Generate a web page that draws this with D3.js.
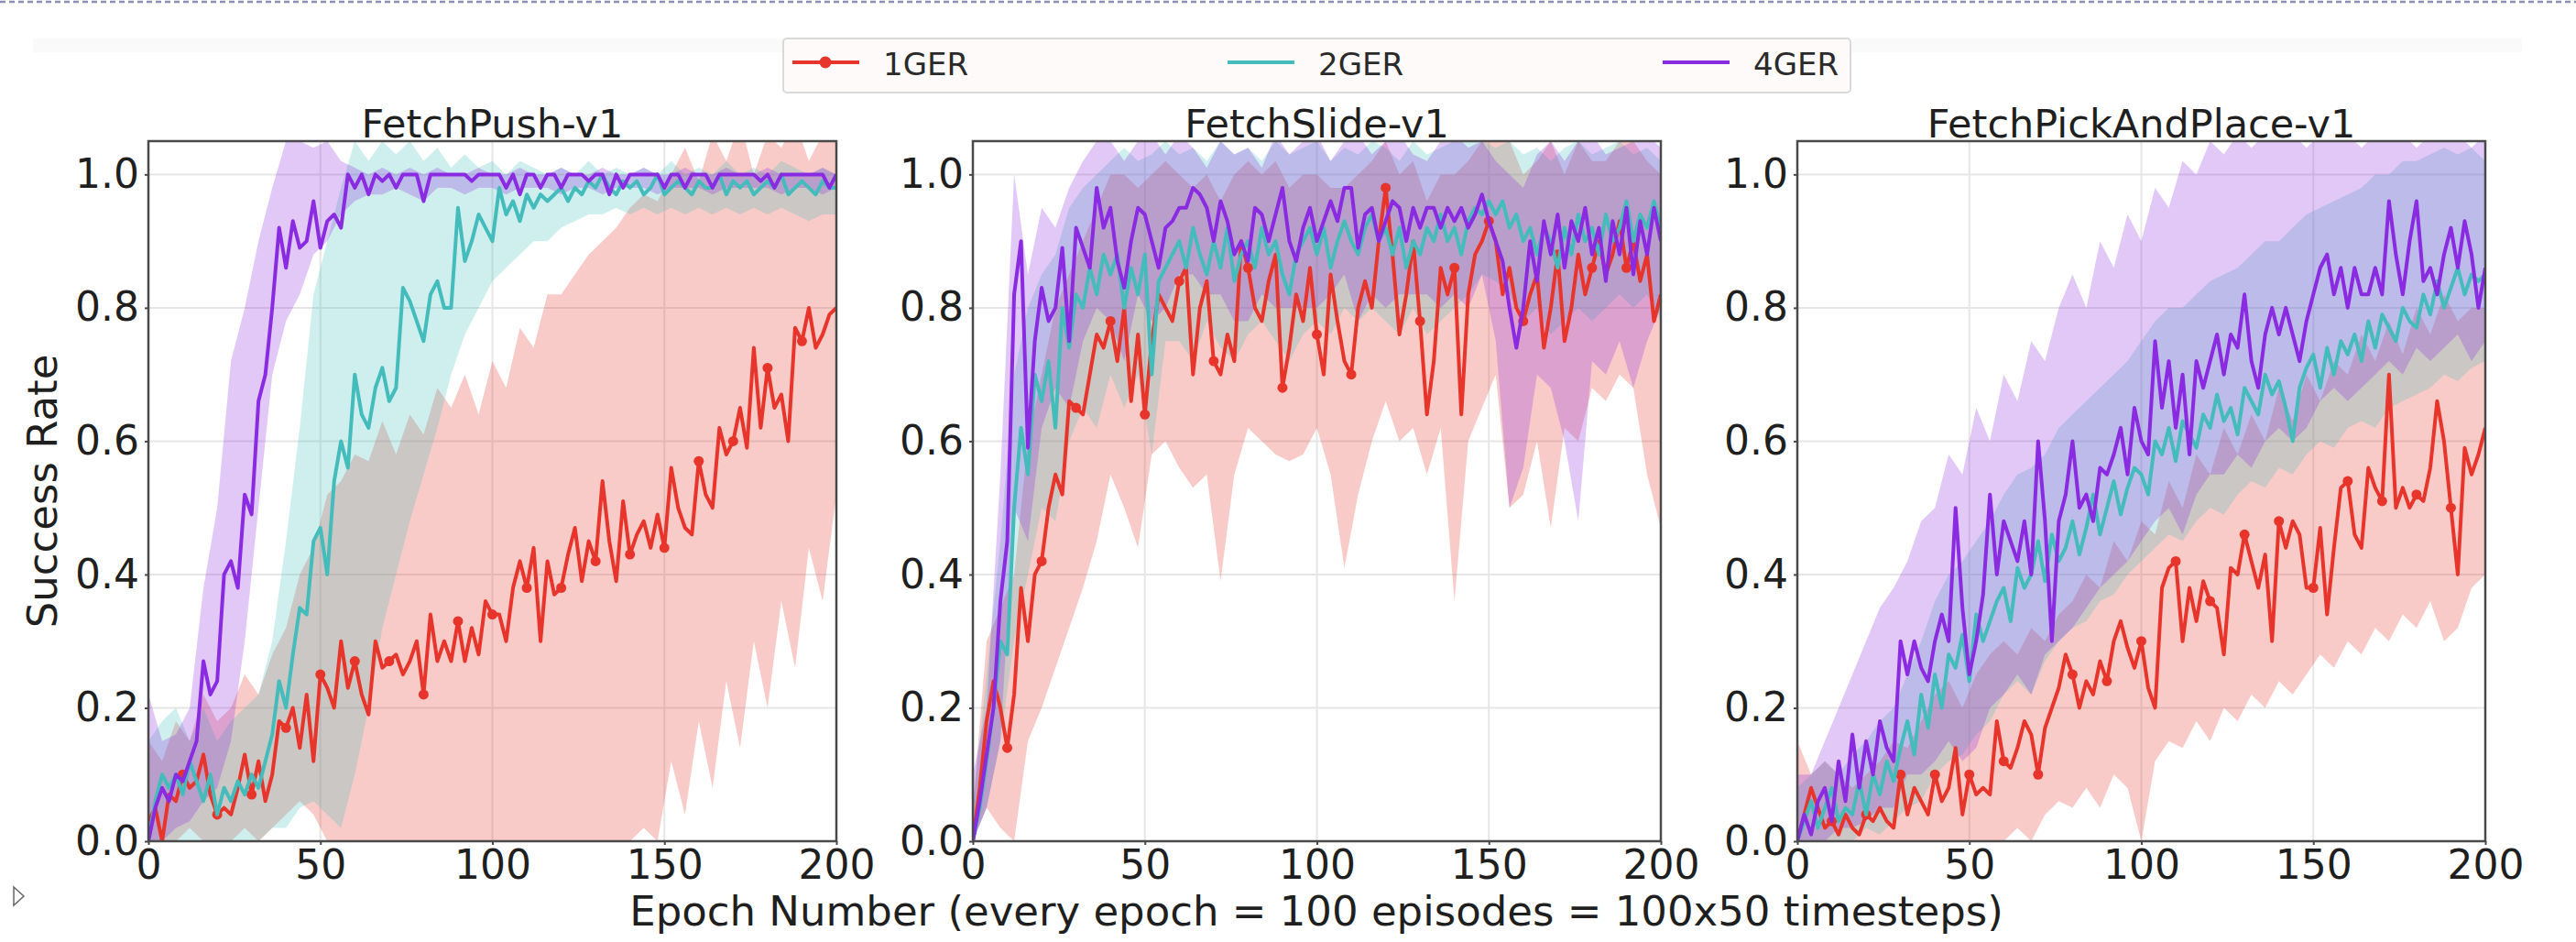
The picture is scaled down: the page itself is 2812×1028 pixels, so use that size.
<!DOCTYPE html>
<html>
<head>
<meta charset="utf-8">
<script src="https://cdn.jsdelivr.net/npm/d3@7"></script>
<style>
  html, body { margin: 0; padding: 0; background: #ffffff; }
  svg { display: block; }
</style>
</head>
<body>
<div id="chart"></div>
<script>
const colors = {
  red: "#e8352b",
  teal: "#45bcbc",
  purple: "#8a2be2",
  text: "#1f1f1f",
  grid: "#e6e6e6",
  spine: "#4a4a4a"
};

// panel titles, legend names, ticks
const panelTitles = ["FetchPush-v1", "FetchSlide-v1", "FetchPickAndPlace-v1"];
const seriesNames = ["1GER", "2GER", "4GER"];
const xTicks = [0, 50, 100, 150, 200];
const yTicks = [0, 0.2, 0.4, 0.6, 0.8, 1.0];
const xLabel = "Epoch Number (every epoch = 100 episodes = 100x50 timesteps)";
const yLabel = "Success Rate";

// mean curves are read every 2 epochs, shaded bands every 4 epochs
const lineEpochs = d3.range(0, 201, 2);
const bandEpochs = d3.range(0, 201, 4);

// ---- FetchPush-v1 ----
const push1 = [
  0.03, 0.05, 0.00, 0.07, 0.06, 0.10, 0.08, 0.09, 0.13, 0.07,
  0.04, 0.05, 0.04, 0.08, 0.13, 0.07, 0.12, 0.06, 0.10, 0.18,
  0.17, 0.20, 0.14, 0.22, 0.12, 0.25, 0.23, 0.20, 0.30, 0.23,
  0.27, 0.22, 0.19, 0.30, 0.26, 0.27, 0.28, 0.25, 0.27, 0.30,
  0.22, 0.34, 0.27, 0.30, 0.27, 0.33, 0.27, 0.32, 0.28, 0.36,
  0.34, 0.34, 0.30, 0.38, 0.42, 0.38, 0.44, 0.30, 0.42, 0.37,
  0.38, 0.43, 0.47, 0.39, 0.45, 0.42, 0.54, 0.45, 0.39, 0.51,
  0.43, 0.46, 0.48, 0.44, 0.49, 0.44, 0.56, 0.50, 0.47, 0.46,
  0.57, 0.52, 0.50, 0.62, 0.58, 0.60, 0.65, 0.59, 0.74, 0.62,
  0.71, 0.65, 0.67, 0.60, 0.77, 0.75, 0.80, 0.74, 0.76, 0.79,
  0.80
];
const push2 = [
  0.00, 0.06, 0.10, 0.08, 0.10, 0.07, 0.12, 0.09, 0.06, 0.10,
  0.04, 0.08, 0.06, 0.09, 0.07, 0.10, 0.08, 0.12, 0.16, 0.24,
  0.20, 0.28, 0.35, 0.34, 0.45, 0.47, 0.40, 0.54, 0.60, 0.56,
  0.70, 0.64, 0.62, 0.68, 0.71, 0.66, 0.68, 0.83, 0.81, 0.78,
  0.75, 0.82, 0.84, 0.80, 0.80, 0.95, 0.87, 0.90, 0.94, 0.92,
  0.90, 0.98, 0.94, 0.96, 0.93, 0.97, 0.95, 0.97, 0.96, 0.97,
  0.98, 0.96, 0.98, 0.97, 0.99, 0.98, 1.00, 0.98, 0.97, 0.99,
  0.98, 0.99, 0.97, 0.98, 1.00, 0.97, 0.98, 0.99, 0.98, 0.97,
  0.99, 0.98, 0.98, 1.00, 0.97, 0.99, 0.98, 0.99, 0.97, 0.98,
  0.99, 0.98, 1.00, 0.97, 0.98, 0.99, 0.98, 0.97, 0.99, 0.98,
  0.98
];
const push4 = [
  0.00, 0.05, 0.08, 0.06, 0.10, 0.09, 0.12, 0.15, 0.27, 0.22,
  0.24, 0.40, 0.42, 0.38, 0.52, 0.49, 0.66, 0.70, 0.80, 0.92,
  0.86, 0.93, 0.89, 0.90, 0.96, 0.89, 0.93, 0.94, 0.92, 1.00,
  0.98, 1.00, 0.97, 1.00, 0.99, 1.00, 0.98, 1.00, 1.00, 1.00,
  0.96, 1.00, 1.00, 1.00, 1.00, 1.00, 1.00, 0.99, 1.00, 1.00,
  1.00, 1.00, 0.98, 1.00, 0.97, 1.00, 1.00, 0.98, 1.00, 1.00,
  0.98, 1.00, 1.00, 1.00, 0.99, 1.00, 1.00, 0.97, 1.00, 0.98,
  1.00, 1.00, 1.00, 1.00, 1.00, 0.98, 1.00, 1.00, 0.98, 1.00,
  1.00, 1.00, 0.98, 1.00, 1.00, 1.00, 1.00, 1.00, 1.00, 0.99,
  1.00, 0.98, 1.00, 1.00, 1.00, 1.00, 1.00, 1.00, 1.00, 0.98,
  1.00
];
const push1Lo = [
  0.00, 0.00, 0.00, 0.02, 0.00, 0.00, 0.00, 0.02, 0.00, 0.02,
  0.04, 0.06, 0.04, 0.00, 0.00, 0.00, 0.00, 0.00, 0.00, 0.00,
  0.00, 0.00, 0.00, 0.00, 0.00, 0.00, 0.00, 0.00, 0.00, 0.00,
  0.00, 0.00, 0.00, 0.00, 0.00, 0.00, 0.02, 0.00, 0.12, 0.04,
  0.18, 0.08, 0.24, 0.14, 0.30, 0.20, 0.36, 0.26, 0.44, 0.36,
  0.52
];
const push1Hi = [
  0.15, 0.12, 0.18, 0.15, 0.22, 0.18, 0.20, 0.25, 0.22, 0.28,
  0.32, 0.40, 0.44, 0.52, 0.54, 0.58, 0.57, 0.63, 0.58, 0.64,
  0.61, 0.68, 0.65, 0.70, 0.64, 0.72, 0.68, 0.77, 0.74, 0.82,
  0.82, 0.85, 0.88, 0.90, 0.92, 0.95, 0.97, 0.96, 1.00, 1.04,
  0.99, 1.06, 1.02, 1.08, 1.00, 1.06, 1.04, 1.08, 1.02, 1.06,
  1.08
];
const push2Lo = [
  0.00, 0.00, 0.00, 0.00, 0.00, 0.00, 0.00, 0.00, 0.00, 0.02,
  0.02, 0.05, 0.06, 0.04, 0.02, 0.10, 0.20, 0.32, 0.40, 0.48,
  0.55, 0.62, 0.70, 0.76, 0.80, 0.84, 0.86, 0.88, 0.90, 0.90,
  0.92, 0.93, 0.94, 0.94, 0.95, 0.94, 0.95, 0.94, 0.95, 0.94,
  0.95, 0.94, 0.95, 0.94, 0.95, 0.94, 0.95, 0.94, 0.93, 0.94,
  0.94
];
const push2Hi = [
  0.15, 0.18, 0.20, 0.15, 0.20, 0.15, 0.18, 0.20, 0.22, 0.30,
  0.45, 0.62, 0.82, 0.90, 0.98, 1.05, 1.02, 1.05, 1.03, 1.05,
  1.02, 1.04, 1.01, 1.03, 1.01, 1.02, 1.00, 1.02, 1.01, 1.00,
  1.01, 1.00, 1.02, 1.00, 1.01, 1.00, 1.01, 1.00, 1.02, 1.00,
  1.01, 1.00, 1.02, 1.00, 1.01, 1.00, 1.02, 1.01, 1.00, 1.01,
  1.00
];
const push4Lo = [
  0.00, 0.00, 0.02, 0.03, 0.06, 0.08, 0.15, 0.30, 0.50, 0.70,
  0.78, 0.82, 0.88, 0.90, 0.94, 0.96, 0.97, 0.97, 0.98, 0.97,
  0.96, 0.98, 0.98, 0.97, 0.98, 0.98, 0.97, 0.98, 0.98, 0.98,
  0.97, 0.98, 0.98, 0.97, 0.98, 0.98, 0.98, 0.97, 0.98, 0.98,
  0.98, 0.97, 0.98, 0.98, 0.98, 0.98, 0.97, 0.98, 0.98, 0.97,
  0.98
];
const push4Hi = [
  0.22, 0.15, 0.16, 0.20, 0.38, 0.50, 0.72, 0.80, 0.90, 0.98,
  1.05, 1.05, 1.04, 1.05, 1.02, 1.01, 1.00, 1.01, 1.00, 1.01,
  1.00, 1.01, 1.00, 1.00, 1.01, 1.00, 1.00, 1.01, 1.00, 1.00,
  1.01, 1.00, 1.00, 1.01, 1.00, 1.00, 1.01, 1.00, 1.00, 1.01,
  1.00, 1.00, 1.01, 1.00, 1.00, 1.01, 1.00, 1.00, 1.00, 1.01,
  1.00
];

// ---- FetchSlide-v1 ----
const slide1 = [
  0.00, 0.08, 0.18, 0.24, 0.20, 0.14, 0.22, 0.38, 0.30, 0.40,
  0.42, 0.50, 0.55, 0.52, 0.66, 0.65, 0.64, 0.70, 0.76, 0.74,
  0.78, 0.72, 0.80, 0.66, 0.76, 0.64, 0.75, 0.82, 0.80, 0.78,
  0.84, 0.86, 0.70, 0.80, 0.84, 0.72, 0.70, 0.76, 0.72, 0.90,
  0.86, 0.80, 0.78, 0.84, 0.88, 0.68, 0.74, 0.82, 0.78, 0.86,
  0.76, 0.70, 0.85, 0.78, 0.72, 0.70, 0.80, 0.84, 0.80, 0.90,
  0.98, 0.88, 0.76, 0.82, 0.90, 0.78, 0.64, 0.72, 0.86, 0.82,
  0.86, 0.64, 0.82, 0.88, 0.90, 0.93, 0.90, 0.82, 0.86, 0.80,
  0.78, 0.82, 0.85, 0.74, 0.80, 0.88, 0.75, 0.80, 0.88, 0.82,
  0.86, 0.90, 0.85, 0.88, 0.93, 0.86, 0.90, 0.84, 0.88, 0.78,
  0.82
];
const slide2 = [
  0.00, 0.05, 0.12, 0.20, 0.30, 0.28, 0.50, 0.62, 0.55, 0.70,
  0.66, 0.72, 0.62, 0.80, 0.74, 0.82, 0.80, 0.86, 0.82, 0.88,
  0.85, 0.88, 0.80, 0.86, 0.82, 0.88, 0.70, 0.84, 0.86, 0.88,
  0.90, 0.86, 0.92, 0.88, 0.85, 0.90, 0.86, 0.92, 0.84, 0.88,
  0.90, 0.86, 0.92, 0.88, 0.90, 0.85, 0.82, 0.88, 0.90, 0.92,
  0.88, 0.92, 0.86, 0.90, 0.93, 0.90, 0.88, 0.92, 0.94, 0.90,
  0.92, 0.88, 0.92, 0.86, 0.90, 0.88, 0.92, 0.90, 0.94, 0.90,
  0.92, 0.88, 0.93, 0.95, 0.94, 0.96, 0.94, 0.96, 0.92, 0.94,
  0.90, 0.92, 0.88, 0.92, 0.90, 0.86, 0.92, 0.88, 0.94, 0.90,
  0.92, 0.88, 0.94, 0.90, 0.92, 0.96, 0.90, 0.94, 0.92, 0.96,
  0.92
];
const slide4 = [
  0.00, 0.06, 0.13, 0.20, 0.36, 0.45, 0.82, 0.90, 0.59, 0.75,
  0.83, 0.78, 0.80, 0.89, 0.75, 0.92, 0.89, 0.86, 0.98, 0.92,
  0.95, 0.87, 0.83, 0.90, 0.95, 0.94, 0.90, 0.86, 0.92, 0.93,
  0.95, 0.95, 0.98, 0.97, 0.95, 0.90, 0.96, 0.93, 0.88, 0.90,
  0.87, 0.95, 0.94, 0.90, 0.94, 0.98, 0.90, 0.87, 0.92, 0.95,
  0.90, 0.93, 0.96, 0.93, 0.98, 0.98, 0.89, 0.94, 0.95, 0.90,
  0.93, 0.96, 0.95, 0.90, 0.95, 0.92, 0.95, 0.95, 0.92, 0.95,
  0.93, 0.95, 0.92, 0.94, 0.97, 0.93, 0.90, 0.87, 0.80, 0.74,
  0.80, 0.90, 0.84, 0.93, 0.88, 0.94, 0.86, 0.93, 0.90, 0.95,
  0.88, 0.92, 0.84, 0.93, 0.88, 0.95, 0.85, 0.93, 0.88, 0.95,
  0.90
];
const slide1Lo = [
  0.00, 0.05, 0.02, 0.00, 0.15, 0.20, 0.26, 0.32, 0.38, 0.45,
  0.55, 0.50, 0.44, 0.58, 0.60, 0.56, 0.53, 0.55, 0.39, 0.55,
  0.62, 0.60, 0.58, 0.57, 0.58, 0.62, 0.55, 0.41, 0.52, 0.60,
  0.66, 0.60, 0.62, 0.55, 0.62, 0.36, 0.60, 0.65, 0.70, 0.50,
  0.52, 0.60, 0.47, 0.62, 0.60, 0.68, 0.66, 0.70, 0.68, 0.55,
  0.47
];
const slide1Hi = [
  0.05, 0.30, 0.35, 0.40, 0.60, 0.70, 0.80, 0.85, 0.90, 0.95,
  1.00, 1.00, 0.98, 1.00, 1.02, 1.00, 0.98, 1.00, 0.96, 1.00,
  1.02, 1.00, 1.02, 0.98, 1.00, 1.00, 0.98, 0.98, 1.00, 1.02,
  1.05, 1.00, 1.02, 0.96, 1.00, 1.00, 1.02, 1.05, 1.08, 1.05,
  1.00, 1.02, 1.05, 1.00, 1.05, 1.02, 1.02, 1.05, 1.05, 1.02,
  1.00
];
const slide2Lo = [
  0.00, 0.05, 0.15, 0.30, 0.40, 0.50, 0.48, 0.60, 0.65, 0.62,
  0.70, 0.65, 0.70, 0.58, 0.75, 0.75, 0.72, 0.78, 0.74, 0.72,
  0.76, 0.78, 0.75, 0.72, 0.76, 0.78, 0.76, 0.80, 0.78, 0.80,
  0.78, 0.76, 0.80, 0.76, 0.78, 0.80, 0.82, 0.85, 0.84, 0.82,
  0.78, 0.80, 0.76, 0.78, 0.80, 0.78, 0.80, 0.82, 0.80, 0.82,
  0.78
];
const slide2Hi = [
  0.05, 0.25, 0.45, 0.70, 0.80, 0.85, 0.88, 0.95, 0.98, 1.00,
  1.02, 1.04, 1.02, 1.03, 1.05, 1.03, 1.04, 1.02, 1.05, 1.03,
  1.04, 1.02, 1.05, 1.03, 1.04, 1.05, 1.02, 1.04, 1.03, 1.05,
  1.04, 1.02, 1.05, 1.03, 1.04, 1.05, 1.06, 1.05, 1.04, 1.05,
  1.03, 1.04, 1.02, 1.04, 1.05, 1.03, 1.04, 1.05, 1.03, 1.04,
  1.02
];
const slide4Lo = [
  0.00, 0.05, 0.15, 0.50, 0.45, 0.62, 0.68, 0.65, 0.75, 0.80,
  0.78, 0.72, 0.82, 0.78, 0.80, 0.85, 0.85, 0.82, 0.82, 0.78,
  0.78, 0.82, 0.80, 0.80, 0.80, 0.80, 0.82, 0.85, 0.78, 0.82,
  0.80, 0.82, 0.82, 0.82, 0.80, 0.82, 0.80, 0.85, 0.75, 0.50,
  0.56, 0.70, 0.68, 0.60, 0.48, 0.72, 0.70, 0.75, 0.68, 0.75,
  0.80
];
const slide4Hi = [
  0.10, 0.20, 0.55, 1.00, 0.85, 0.95, 0.92, 0.98, 1.02, 1.05,
  1.05, 1.02, 1.05, 1.06, 1.03, 1.06, 1.04, 1.01, 1.05, 1.03,
  1.04, 1.01, 1.06, 1.03, 1.05, 1.06, 1.02, 1.05, 1.06, 1.03,
  1.05, 1.06, 1.03, 1.02, 1.05, 1.06, 1.04, 1.05, 1.02, 1.00,
  0.98, 1.03, 1.05, 1.02, 1.05, 1.06, 1.03, 1.04, 1.05, 1.06,
  1.04
];

// ---- FetchPickAndPlace-v1 ----
const pick1 = [
  0.00, 0.04, 0.08, 0.05, 0.02, 0.03, 0.01, 0.04, 0.02, 0.01,
  0.04, 0.03, 0.05, 0.03, 0.02, 0.10, 0.04, 0.08, 0.06, 0.04,
  0.10, 0.06, 0.08, 0.14, 0.04, 0.10, 0.07, 0.08, 0.07, 0.18,
  0.12, 0.11, 0.14, 0.18, 0.16, 0.10, 0.17, 0.20, 0.23, 0.28,
  0.25, 0.20, 0.24, 0.22, 0.27, 0.24, 0.30, 0.33, 0.29, 0.26,
  0.30, 0.23, 0.20, 0.38, 0.41, 0.42, 0.30, 0.38, 0.33, 0.39,
  0.36, 0.35, 0.28, 0.41, 0.40, 0.46, 0.42, 0.38, 0.43, 0.30,
  0.48, 0.44, 0.48, 0.46, 0.38, 0.38, 0.47, 0.34, 0.44, 0.53,
  0.54, 0.46, 0.44, 0.56, 0.53, 0.51, 0.70, 0.50, 0.53, 0.50,
  0.52, 0.51, 0.56, 0.66, 0.60, 0.50, 0.40, 0.59, 0.55, 0.58,
  0.62
];
const pick2 = [
  0.00, 0.03, 0.06, 0.02, 0.05, 0.08, 0.03, 0.05, 0.04, 0.09,
  0.04, 0.10, 0.07, 0.12, 0.09, 0.14, 0.18, 0.13, 0.22, 0.17,
  0.25, 0.20, 0.28, 0.26, 0.31, 0.24, 0.34, 0.30, 0.33, 0.36,
  0.38, 0.33, 0.41, 0.38, 0.40, 0.45, 0.39, 0.46, 0.42, 0.44,
  0.48, 0.43, 0.47, 0.52, 0.46, 0.50, 0.54, 0.49, 0.53, 0.56,
  0.55, 0.52, 0.60, 0.58, 0.62, 0.57, 0.63, 0.61, 0.59, 0.64,
  0.62, 0.67, 0.63, 0.65, 0.61, 0.68, 0.66, 0.64, 0.70, 0.67,
  0.69, 0.65, 0.60, 0.68, 0.71, 0.73, 0.68, 0.74, 0.70, 0.75,
  0.73, 0.76, 0.72, 0.78, 0.74, 0.79, 0.77, 0.75, 0.80, 0.78,
  0.77, 0.82, 0.79, 0.84, 0.80, 0.83, 0.86, 0.82, 0.85, 0.84,
  0.85
];
const pick4 = [
  0.00, 0.04, 0.01, 0.06, 0.08, 0.03, 0.12, 0.06, 0.16, 0.08,
  0.15, 0.10, 0.18, 0.14, 0.12, 0.30, 0.25, 0.30, 0.26, 0.24,
  0.30, 0.34, 0.30, 0.50, 0.35, 0.25, 0.30, 0.37, 0.52, 0.40,
  0.48, 0.45, 0.42, 0.48, 0.40, 0.60, 0.48, 0.30, 0.48, 0.52,
  0.60, 0.50, 0.52, 0.48, 0.56, 0.55, 0.58, 0.62, 0.55, 0.65,
  0.60, 0.58, 0.75, 0.65, 0.72, 0.62, 0.70, 0.58, 0.72, 0.68,
  0.72, 0.76, 0.70, 0.76, 0.74, 0.82, 0.72, 0.68, 0.76, 0.80,
  0.76, 0.80, 0.76, 0.72, 0.78, 0.82, 0.86, 0.88, 0.82, 0.86,
  0.80, 0.86, 0.82, 0.82, 0.86, 0.82, 0.96, 0.88, 0.82, 0.90,
  0.96, 0.84, 0.86, 0.82, 0.88, 0.92, 0.86, 0.93, 0.88, 0.80,
  0.86
];
const pick1Lo = [
  0.00, 0.00, 0.00, 0.00, 0.00, 0.00, 0.00, 0.00, 0.00, 0.00,
  0.00, 0.00, 0.00, 0.00, 0.00, 0.00, 0.02, 0.00, 0.04, 0.06,
  0.05, 0.08, 0.05, 0.10, 0.08, 0.00, 0.12, 0.15, 0.14, 0.18,
  0.15, 0.20, 0.18, 0.22, 0.20, 0.24, 0.22, 0.25, 0.28, 0.26,
  0.30, 0.28, 0.32, 0.30, 0.34, 0.32, 0.36, 0.30, 0.32, 0.38,
  0.40
];
const pick1Hi = [
  0.15, 0.10, 0.12, 0.10, 0.08, 0.10, 0.12, 0.15, 0.14, 0.18,
  0.22, 0.24, 0.20, 0.25, 0.28, 0.30, 0.28, 0.32, 0.30, 0.34,
  0.36, 0.40, 0.38, 0.45, 0.42, 0.48, 0.46, 0.54, 0.50, 0.58,
  0.55, 0.62, 0.58, 0.64, 0.60, 0.68, 0.63, 0.70, 0.66, 0.72,
  0.70, 0.76, 0.72, 0.78, 0.73, 0.80, 0.76, 0.82, 0.78, 0.80,
  0.80
];
const pick2Lo = [
  0.00, 0.00, 0.00, 0.00, 0.00, 0.02, 0.01, 0.03, 0.05, 0.06,
  0.10, 0.12, 0.13, 0.16, 0.18, 0.22, 0.24, 0.22, 0.27, 0.30,
  0.32, 0.33, 0.36, 0.37, 0.40, 0.42, 0.44, 0.46, 0.45, 0.48,
  0.50, 0.49, 0.52, 0.54, 0.53, 0.56, 0.55, 0.58, 0.60, 0.59,
  0.62, 0.63, 0.62, 0.65, 0.66, 0.67, 0.68, 0.70, 0.69, 0.71,
  0.72
];
const pick2Hi = [
  0.08, 0.10, 0.12, 0.10, 0.13, 0.15, 0.18, 0.20, 0.25, 0.30,
  0.36, 0.40, 0.42, 0.45, 0.48, 0.52, 0.55, 0.56, 0.58, 0.62,
  0.64, 0.66, 0.68, 0.70, 0.72, 0.75, 0.78, 0.80, 0.80, 0.82,
  0.84, 0.85, 0.86, 0.88, 0.90, 0.90, 0.92, 0.94, 0.95, 0.96,
  0.97, 0.98, 1.00, 1.00, 1.02, 1.02, 1.03, 1.04, 1.03, 1.04,
  1.02
];
const pick4Lo = [
  0.00, 0.00, 0.00, 0.02, 0.02, 0.03, 0.05, 0.05, 0.10, 0.10,
  0.12, 0.15, 0.12, 0.14, 0.20, 0.22, 0.25, 0.22, 0.28, 0.30,
  0.32, 0.35, 0.38, 0.40, 0.42, 0.45, 0.48, 0.50, 0.46, 0.52,
  0.55, 0.55, 0.58, 0.56, 0.60, 0.62, 0.60, 0.62, 0.66, 0.68,
  0.66, 0.68, 0.70, 0.72, 0.70, 0.74, 0.72, 0.74, 0.76, 0.72,
  0.75
];
const pick4Hi = [
  0.10, 0.10, 0.15, 0.20, 0.25, 0.30, 0.35, 0.38, 0.42, 0.48,
  0.50, 0.58, 0.55, 0.65, 0.60, 0.70, 0.66, 0.75, 0.72, 0.80,
  0.85, 0.80, 0.90, 0.86, 0.94, 0.90, 0.98, 0.95, 1.02, 1.00,
  1.05, 1.03, 1.06, 1.04, 1.06, 1.05, 1.06, 1.04, 1.06, 1.05,
  1.06, 1.04, 1.06, 1.05, 1.06, 1.04, 1.06, 1.05, 1.06, 1.04,
  1.06
];

// table the drawing code walks through
const seriesColors = [colors.red, colors.teal, colors.purple];
const panels = [
  { title: panelTitles[0], means: [push1, push2, push4], lows: [push1Lo, push2Lo, push4Lo], highs: [push1Hi, push2Hi, push4Hi] },
  { title: panelTitles[1], means: [slide1, slide2, slide4], lows: [slide1Lo, slide2Lo, slide4Lo], highs: [slide1Hi, slide2Hi, slide4Hi] },
  { title: panelTitles[2], means: [pick1, pick2, pick4], lows: [pick1Lo, pick2Lo, pick4Lo], highs: [pick1Hi, pick2Hi, pick4Hi] }
];

const W = 2812, H = 1028;
const font = "'DejaVu Sans', 'Liberation Sans', sans-serif";
const panelLeft = [162, 1062, 1962];
const panelW = 751;
const plotTop = 154, plotBottom = 918;

const svg = d3.select("#chart")
  .append("svg")
  .attr("width", W)
  .attr("height", H)
  .style("font-family", font);

svg.append("rect").attr("width", W).attr("height", H).attr("fill", "#ffffff");

// page decorations from the document viewer
svg.append("line")
  .attr("x1", 0).attr("x2", W).attr("y1", 2).attr("y2", 2)
  .attr("stroke", "#8f8fb3").attr("stroke-width", 2.5)
  .attr("stroke-dasharray", "6 4");

svg.append("rect")
  .attr("x", 36).attr("y", 42).attr("width", 2717).attr("height", 15)
  .attr("fill", "#fafafa");

svg.append("path")
  .attr("d", "M15,968 L26,978 L15,988 Z")
  .attr("fill", "none").attr("stroke", "#666").attr("stroke-width", 1.5);

const y = d3.scaleLinear().domain([0, 1.05]).range([plotBottom, plotTop]);

panels.forEach((p, pi) => {
  const x0 = panelLeft[pi];
  const x = d3.scaleLinear().domain([0, 200]).range([x0, x0 + panelW]);
  const g = svg.append("g");

  const clipId = `clip-${pi}`;
  svg.append("clipPath").attr("id", clipId)
    .append("rect")
    .attr("x", x0).attr("y", plotTop)
    .attr("width", panelW).attr("height", plotBottom - plotTop);

  // grid
  g.selectAll(".vgrid").data(xTicks.slice(1, -1)).enter()
    .append("line")
    .attr("x1", d => x(d)).attr("x2", d => x(d))
    .attr("y1", plotTop).attr("y2", plotBottom)
    .attr("stroke", colors.grid).attr("stroke-width", 2);

  g.selectAll(".hgrid").data(yTicks.slice(1)).enter()
    .append("line")
    .attr("x1", x0).attr("x2", x0 + panelW)
    .attr("y1", d => y(d)).attr("y2", d => y(d))
    .attr("stroke", colors.grid).attr("stroke-width", 2);

  const plotArea = g.append("g").attr("clip-path", `url(#${clipId})`);

  // shaded bands
  p.lows.forEach((lo, si) => {
    const hi = p.highs[si];
    const area = d3.area()
      .x((d, i) => x(bandEpochs[i]))
      .y0((d, i) => y(lo[i]))
      .y1((d, i) => y(hi[i]));
    plotArea.append("path")
      .datum(lo)
      .attr("d", area)
      .attr("fill", seriesColors[si])
      .attr("fill-opacity", 0.26);
  });

  // mean curves
  p.means.forEach((vals, si) => {
    const line = d3.line()
      .x((d, i) => x(lineEpochs[i]))
      .y(d => y(d));
    plotArea.append("path")
      .datum(vals)
      .attr("d", line)
      .attr("fill", "none")
      .attr("stroke", seriesColors[si])
      .attr("stroke-width", 4)
      .attr("stroke-linejoin", "round");

    if (si === 0) {
      const marks = vals
        .map((v, i) => ({ e: lineEpochs[i], v }))
        .filter(d => d.e % 10 === 0 && d.e > 0 && d.e < 200);
      plotArea.selectAll(".mk").data(marks).enter()
        .append("circle")
        .attr("cx", d => x(d.e))
        .attr("cy", d => y(d.v))
        .attr("r", 5.5)
        .attr("fill", colors.red);
    }
  });

  // spines
  g.append("rect")
    .attr("x", x0).attr("y", plotTop)
    .attr("width", panelW).attr("height", plotBottom - plotTop)
    .attr("fill", "none")
    .attr("stroke", colors.spine)
    .attr("stroke-width", 2.5);

  // axes
  const xAxis = g.append("g")
    .attr("transform", `translate(0,${plotBottom})`)
    .call(d3.axisBottom(x).tickValues(xTicks).tickSize(4).tickPadding(6).tickFormat(d3.format("d")));
  const yAxis = g.append("g")
    .attr("transform", `translate(${x0},0)`)
    .call(d3.axisLeft(y).tickValues(yTicks).tickSize(4).tickPadding(6).tickFormat(d3.format(".1f")));

  [xAxis, yAxis].forEach(ax => {
    ax.select(".domain").remove();
    ax.selectAll("line").attr("stroke", colors.spine).attr("stroke-width", 2);
    ax.selectAll("text")
      .style("font-family", font)
      .style("font-size", "44px")
      .attr("fill", colors.text);
  });

  // title
  g.append("text")
    .attr("x", x0 + panelW / 2)
    .attr("y", 150)
    .attr("text-anchor", "middle")
    .style("font-size", "43px")
    .attr("fill", colors.text)
    .text(p.title);
});

// y label
svg.append("text")
  .attr("transform", `translate(62,${(plotTop + plotBottom) / 2}) rotate(-90)`)
  .attr("text-anchor", "middle")
  .style("font-size", "45px")
  .attr("fill", colors.text)
  .text(yLabel);

// x label
svg.append("text")
  .attr("x", 1437)
  .attr("y", 1010)
  .attr("text-anchor", "middle")
  .style("font-size", "45px")
  .attr("fill", colors.text)
  .text(xLabel);

// legend
const legend = svg.append("g");
legend.append("rect")
  .attr("x", 855).attr("y", 42)
  .attr("width", 1165).attr("height", 59)
  .attr("rx", 4)
  .attr("fill", "#fffafa")
  .attr("stroke", "#d9d9d9")
  .attr("stroke-width", 2);

const legendX = [865, 1340, 1815];
seriesNames.forEach((name, i) => {
  legend.append("line")
    .attr("x1", legendX[i]).attr("x2", legendX[i] + 73)
    .attr("y1", 68).attr("y2", 68)
    .attr("stroke", seriesColors[i])
    .attr("stroke-width", 4);
  if (i === 0) {
    legend.append("circle")
      .attr("cx", legendX[i] + 36).attr("cy", 68)
      .attr("r", 6.5)
      .attr("fill", seriesColors[i]);
  }
  legend.append("text")
    .attr("x", legendX[i] + 99)
    .attr("y", 82)
    .style("font-size", "34px")
    .attr("fill", "#2a2a2a")
    .text(name);
});
</script>
</body>
</html>
